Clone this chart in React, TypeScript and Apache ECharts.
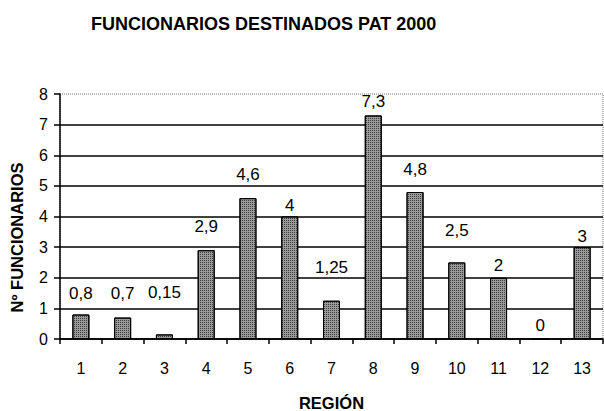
import React, { useEffect, useRef } from "react";
import * as echarts from "echarts";

const regions = ["1", "2", "3", "4", "5", "6", "7", "8", "9", "10", "11", "12", "13"];
const funcionarios = [0.8, 0.7, 0.15, 2.9, 4.6, 4, 1.25, 7.3, 4.8, 2.5, 2, 0, 3];
const labelGaps = [13, 16, 33, 15, 15, 3, 25, 5, 14, 23, 4, 5, 2];
const yTicks = { min: 0, max: 8, interval: 1 };

const titleText = "FUNCIONARIOS DESTINADOS PAT 2000";
const yName = "Nº FUNCIONARIOS";
const xName = "REGIÓN";

const FONT = "'Liberation Sans', Arial, sans-serif";

export default function App() {
  const ref = useRef<HTMLDivElement>(null);
  useEffect(() => {
    if (!ref.current) return;
    const chart = echarts.init(ref.current, null, { renderer: "svg" });
    const gridColors = Array.from({ length: yTicks.max + 1 }, (_, i) =>
      i === yTicks.max ? "transparent" : "#000"
    );
    chart.setOption({
      animation: false,
      backgroundColor: "#fff",
      title: {
        text: titleText,
        left: 86,
        top: 10,
        textStyle: { fontFamily: FONT, fontSize: 18, fontWeight: "bold", color: "#000" },
      },
      grid: {
        left: 60,
        right: 1,
        top: 94,
        height: 245,
        outerBoundsMode: "none",
        containLabel: false,
        show: true,
        borderColor: "#777",
        borderWidth: 1,
        borderType: "dotted",
      },
      xAxis: {
        type: "category",
        data: regions,
        name: xName,
        nameLocation: "middle",
        nameGap: 55,
        nameTextStyle: { fontFamily: FONT, fontSize: 16.5, fontWeight: "bold", color: "#000" },
        axisLine: { lineStyle: { color: "#000", width: 1.5 } },
        axisTick: { show: true, length: 5, lineStyle: { color: "#000", width: 1.5 } },
        axisLabel: { fontFamily: FONT, fontSize: 16, color: "#000", margin: 21 },
      },
      yAxis: {
        type: "value",
        min: yTicks.min,
        max: yTicks.max,
        interval: yTicks.interval,
        name: yName,
        nameLocation: "middle",
        nameGap: 35,
        nameRotate: 90,
        nameTextStyle: {
          fontFamily: FONT,
          fontSize: 16.5,
          fontWeight: "bold",
          color: "#000",
          padding: [0, 0, 0, -42],
        },
        axisLine: { show: true, lineStyle: { color: "#000", width: 1.5 } },
        axisTick: { show: true, length: 6, lineStyle: { color: "#000", width: 1.5 } },
        axisLabel: { fontFamily: FONT, fontSize: 16, color: "#000", margin: 12 },
        splitLine: { show: true, lineStyle: { color: gridColors, width: 1.5 } },
      },
      series: [
        {
          type: "bar",
          barWidth: 17,
          data: funcionarios.map((v, i) => ({
            value: v,
            label: { distance: labelGaps[i] },
          })),
          itemStyle: {
            color: "#9a9a9a",
            borderColor: "#000",
            borderWidth: 1,
            decal: {
              symbol: "rect",
              symbolSize: 1,
              dashArrayX: [1, 1],
              dashArrayY: [1, 1],
              color: "rgba(0,0,0,0.6)",
            },
          },
          label: {
            show: true,
            position: "top",
            fontFamily: FONT,
            fontSize: 17,
            color: "#000",
            formatter: (p: any) => String(p.value).replace(".", ","),
          },
        },
      ],
    });
    return () => chart.dispose();
  }, []);
  return (
    <div
      ref={ref}
      style={{ position: "fixed", left: 0, top: 0, width: 604, height: 411 }}
    />
  );
}
